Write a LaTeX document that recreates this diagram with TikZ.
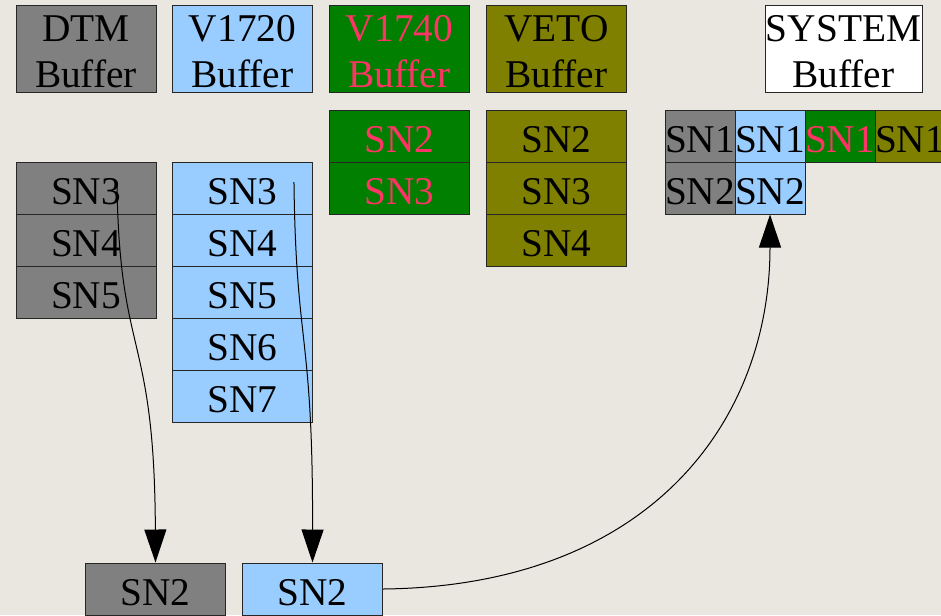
\documentclass[tikz,border=0pt]{standalone}
\usepackage{fontspec}
\setmainfont{Liberation Serif}
\usetikzlibrary{arrows.meta}

\definecolor{bgbeige}{HTML}{EAE7E1}
\definecolor{dtmgray}{HTML}{808080}
\definecolor{vblue}{HTML}{99CCFF}
\definecolor{vgreen}{HTML}{007F00}
\definecolor{volive}{HTML}{808000}
\definecolor{snred}{HTML}{FF3366}

% taller first line, so the two-line titles sit a bit low
\newcommand{\headstrut}{\rule{0pt}{24.4pt}}

\begin{document}
\begin{tikzpicture}[x=0.75pt, y=-0.75pt,
    box/.style={draw=black!85, line width=0.75pt, inner sep=0pt,
        minimum width=105pt, font=\fontsize{29.5}{34.5}\selectfont},
    cell/.style={box, minimum height=39pt, text height=24.4pt, text depth=0pt},
    head/.style={box, minimum height=65.25pt, align=center},
    syscell/.style={cell, minimum width=52.5pt},
    dtm/.style={fill=dtmgray},
    vsev/.style={fill=vblue},
    vfour/.style={fill=vgreen, text=snred},
    veto/.style={fill=volive},
    flow/.style={line width=0.75pt, -{Triangle[width=16.5pt,length=24.75pt]}}]

    % Canvas
    \useasboundingbox (0,0) rectangle (941,615);
    \clip (0,0) rectangle (941,615);
    \fill[bgbeige] (0,0) rectangle (941,615);

    % Buffer headers
    \node[head, dtm]  (dtmhead) at (86,48.5)    {\headstrut DTM\\Buffer};
    \node[head, vsev] (v20head) at (242.5,48.5) {\headstrut V1720\\Buffer};
    \node[head, vfour](v40head) at (399.5,48.5) {\headstrut V1740\\Buffer};
    \node[head, veto] (vetohead) at (556.5,48.5) {\headstrut VETO\\Buffer};
    \node[head, fill=white, minimum width=117.75pt] (syshead) at (843.5,48.5) {\headstrut SYSTEM\\Buffer};

    % DTM buffer
    \node[cell, dtm] (dtm3) at (86,188) {SN3};
    \node[cell, dtm] (dtm4) at (86,240) {SN4};
    \node[cell, dtm] (dtm5) at (86,292) {SN5};

    % V1720 buffer
    \node[cell, vsev] (v20n3) at (242.5,188) {SN3};
    \node[cell, vsev] (v20n4) at (242.5,240) {SN4};
    \node[cell, vsev] (v20n5) at (242.5,292) {SN5};
    \node[cell, vsev] (v20n6) at (242.5,344) {SN6};
    \node[cell, vsev] (v20n7) at (242.5,396) {SN7};

    % V1740 buffer
    \node[cell, vfour] (v40n2) at (399.5,136) {SN2};
    \node[cell, vfour] (v40n3) at (399.5,188) {SN3};

    % VETO buffer
    \node[cell, veto] (veto2) at (556.5,136) {SN2};
    \node[cell, veto] (veto3) at (556.5,188) {SN3};
    \node[cell, veto] (veto4) at (556.5,240) {SN4};

    % System buffer
    \node[syscell, dtm]   (sys11) at (700,136) {SN1};
    \node[syscell, vsev]  (sys12) at (770,136) {SN1};
    \node[syscell, vfour] (sys13) at (840,136) {SN1};
    \node[syscell, veto]  (sys14) at (910,136) {SN1};
    \node[syscell, dtm]   (sys21) at (700,188) {SN2};
    \node[syscell, vsev]  (sys22) at (770,188) {SN2};

    % Events being built
    \node[cell, dtm]  (dtmbuf) at (155.5,589) {SN2};
    \node[cell, vsev] (v20buf) at (312.5,589) {SN2};

    % Draw the transfers
    \draw[flow] ([xshift=23.25pt,yshift=4.5pt]dtm3.center)
        .. controls +(2,178) and +(-1,-233) .. (dtmbuf.north);
    \draw[flow] ([xshift=38.6pt,yshift=4.5pt]v20n3.center)
        .. controls +(2,168) and +(0.5,-233) .. (v20buf.north);
    \draw[flow] (v20buf.east)
        .. controls +(268,-3) and +(0,206) .. (sys22.south);
\end{tikzpicture}
\end{document}
